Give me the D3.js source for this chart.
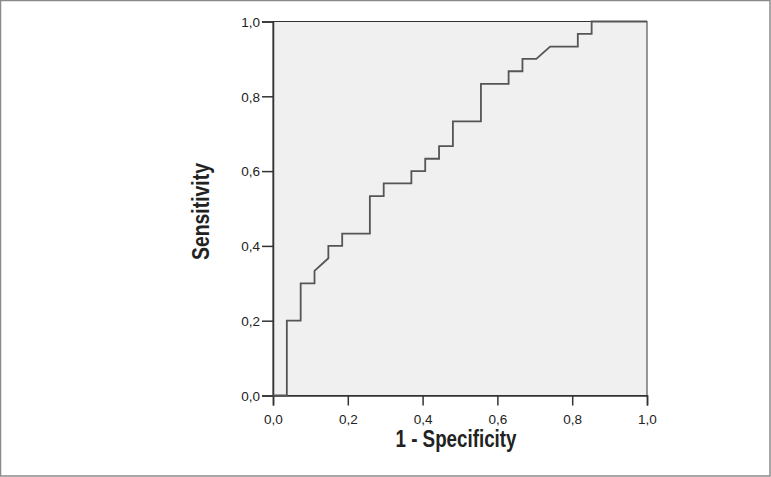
<!DOCTYPE html>
<html><head><meta charset="utf-8">
<script src="https://cdn.jsdelivr.net/npm/d3@7/dist/d3.min.js"></script>
<style>
html,body{margin:0;padding:0;background:#fff;}
svg{display:block;}
</style></head>
<body>
<svg id="chart" width="771" height="477"></svg>
<script>
// ROC curve points: 1 - Specificity (x) and Sensitivity (y)
const fpr = [0,0.037,0.037,0.074,0.074,0.111,0.111,0.148,0.148,0.185,0.185,0.259,0.259,0.296,0.296,0.370,0.370,0.407,0.407,0.444,0.444,0.481,0.481,0.556,0.556,0.630,0.630,0.667,0.667,0.704,0.741,0.815,0.815,0.852,0.852,1.0];
const tpr = [0,0,0.2,0.2,0.3,0.3,0.333,0.367,0.4,0.4,0.433,0.433,0.533,0.533,0.567,0.567,0.6,0.6,0.633,0.633,0.667,0.667,0.733,0.733,0.833,0.833,0.867,0.867,0.9,0.9,0.933,0.933,0.967,0.967,1.0,1.0];
const tickValues = [0,0.2,0.4,0.6,0.8,1.0];
const xTitle = "1 - Specificity";
const yTitle = "Sensitivity";

const svg = d3.select("#chart");
const W = 771, H = 477;
const x = d3.scaleLinear().domain([0,1]).range([273,647]);
const y = d3.scaleLinear().domain([0,1]).range([395.5,21.5]);
const loc = d3.formatLocale({decimal:",",thousands:".",grouping:[3],currency:["",""]});
const fmt = loc.format(".1f");

// outer frame
svg.append("rect").attr("x",0.5).attr("y",0.5).attr("width",W-1.5).attr("height",H-1.5)
  .attr("fill","#fff").attr("stroke","#8a8a8a").attr("stroke-width",1.5);

// plot background
svg.append("rect").attr("x",x(0)).attr("y",y(1)).attr("width",x(1)-x(0)).attr("height",y(0)-y(1))
  .attr("fill","#f0f0f0").attr("stroke","#333").attr("stroke-width",1);

// axes
const xAxis = d3.axisBottom(x).tickValues(tickValues).tickFormat(fmt).tickSize(10).tickPadding(9);
const yAxis = d3.axisLeft(y).tickValues(tickValues).tickFormat(fmt).tickSize(11).tickPadding(2);
const gx = svg.append("g").attr("transform",`translate(0,${y(0)})`).call(xAxis);
const gy = svg.append("g").attr("transform",`translate(${x(0)},0)`).call(yAxis);
[gx,gy].forEach(g=>{
  g.select(".domain").attr("stroke","#333").attr("stroke-width",1.5);
  g.selectAll(".tick line").attr("stroke","#333").attr("stroke-width",1.5);
  g.selectAll(".tick text").attr("fill","#222").style("font-family","'Liberation Sans', Arial, sans-serif").style("font-size","13.5px");
});
gy.selectAll(".tick text").attr("dy","0.35em");

// ROC line
const pts = fpr.map((v,i)=>[v,tpr[i]]);
svg.append("path").datum(pts)
  .attr("d", d3.line().x(d=>x(d[0])).y(d=>y(d[1])))
  .attr("fill","none").attr("stroke","#555").attr("stroke-width",1.8).attr("stroke-linejoin","miter");

// titles
const titleFont = "'Liberation Sans Narrow','Arial Narrow','Liberation Sans',Arial,sans-serif";
svg.append("text").attr("x",(x(0)+x(1))/2-4).attr("y",447)
  .attr("text-anchor","middle").attr("fill","#222")
  .attr("textLength",121).attr("lengthAdjust","spacingAndGlyphs")
  .style("font-family",titleFont).style("font-weight","bold").style("font-size","23px")
  .text(xTitle);
svg.append("text").attr("transform",`translate(209,211.5) rotate(-90)`)
  .attr("text-anchor","middle").attr("fill","#222")
  .attr("textLength",97).attr("lengthAdjust","spacingAndGlyphs")
  .style("font-family",titleFont).style("font-weight","bold").style("font-size","23px")
  .text(yTitle);
</script>
</body></html>
